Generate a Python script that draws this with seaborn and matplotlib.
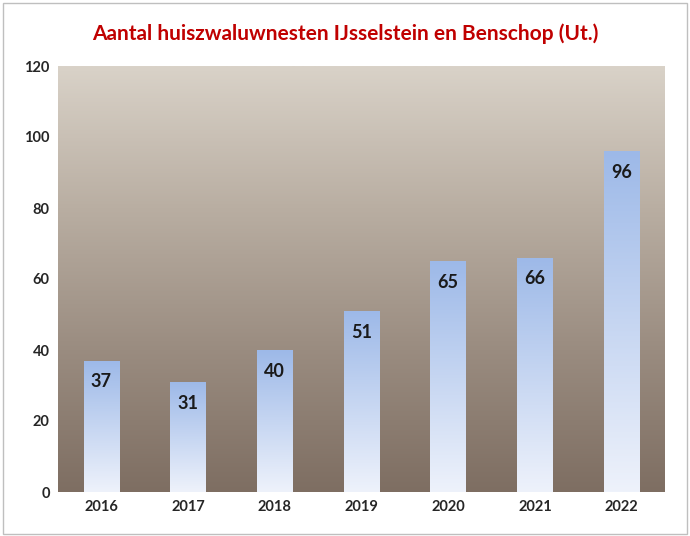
import numpy as np
import pandas as pd
import matplotlib
matplotlib.use("Agg")
import matplotlib.pyplot as plt
from matplotlib.colors import LinearSegmentedColormap
import seaborn as sns

years = ["2016", "2017", "2018", "2019", "2020", "2021", "2022"]
nests = [37, 31, 40, 51, 65, 66, 96]
title = "Aantal huiszwaluwnesten IJsselstein en Benschop (Ut.)"

sns.set_style("white")
plt.rcParams["font.family"] = ["Lato", "DejaVu Sans"]

fig = plt.figure(figsize=(6.9, 5.36), dpi=100)
fig.patch.set_facecolor("white")
# chart border
fig.add_artist(plt.Rectangle((0.004, 0.004), 0.992, 0.99, transform=fig.transFigure,
                             fill=False, edgecolor="#BFBFBF", lw=1))
ax = fig.add_axes([58 / 690, 44 / 536, 607 / 690, 426 / 536])

df = pd.DataFrame({"year": years, "nests": nests})
sns.barplot(data=df, x="year", y="nests", ax=ax, width=0.41, color="#9DB9E8",
            edgecolor="none", zorder=3)

# photo-like background: warm grey/brown gradient
bg = LinearSegmentedColormap.from_list("bg", ["#7E6E62", "#9A8C80", "#B9AEA2", "#D9D2C8"])
grad = np.linspace(0, 1, 256).reshape(-1, 1)
ax.imshow(grad, cmap=bg, aspect="auto", extent=[-0.5, 6.5, 0, 120], origin="lower", zorder=0)

# gradient fill for bars
barcmap = LinearSegmentedColormap.from_list("bar", ["#EEF2FB", "#9DB9E8"])
for p in ax.patches:
    x0, w, h = p.get_x(), p.get_width(), p.get_height()
    im = ax.imshow(grad, cmap=barcmap, aspect="auto", extent=[x0, x0 + w, 0, h],
                   origin="lower", zorder=4)
    im.set_clip_path(p)
    p.set_alpha(0)
    ax.text(x0 + w / 2, h - 6, f"{int(h)}", ha="center", va="center",
            fontsize=13, fontweight="bold", color="#1A1A1A", zorder=5)

ax.set_xlim(-0.5, 6.5)
ax.set_ylim(0, 120)
ax.set_yticks(range(0, 121, 20))
ax.set_xlabel("")
ax.set_ylabel("")
ax.tick_params(axis="both", length=0, labelsize=10.5, pad=6)
for lab in ax.get_xticklabels() + ax.get_yticklabels():
    lab.set_fontweight("bold")
for s in ax.spines.values():
    s.set_visible(False)

fig.text(0.5, 0.938, title, ha="center", va="center", fontsize=15,
         color="#C00000", fontweight="bold")

fig.savefig("out.png", dpi=100)
